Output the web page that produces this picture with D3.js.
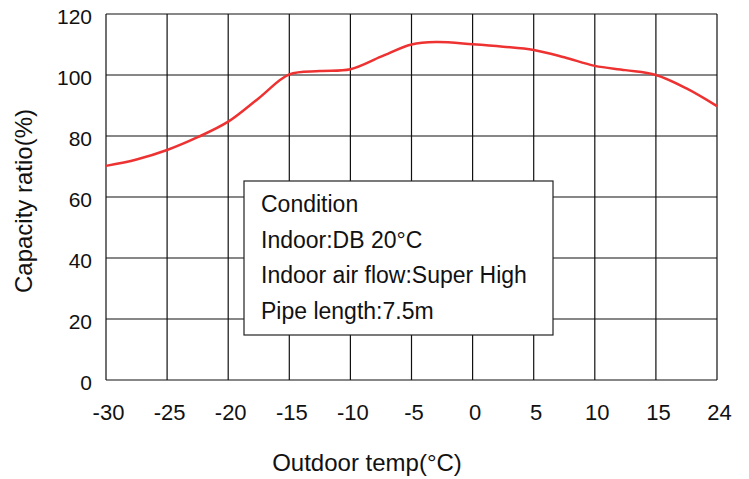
<!DOCTYPE html>
<html>
<head>
<meta charset="utf-8">
<script src="https://cdn.jsdelivr.net/npm/d3@7"></script>
<style>
  body { margin: 0; background: #fff; }
  text { font-family: "Liberation Sans", Arial, sans-serif; fill: #111; }
</style>
</head>
<body>
<svg id="chart" width="749" height="479"></svg>
<script>
// Outdoor temperature (deg C) and capacity ratio (%)
const temps = [-30, -27.5, -25, -22.5, -20, -17.5, -15, -12.5, -10, -7.5, -5, -3, 0, 2.5, 5, 7.5, 10, 12.5, 15, 19.5, 24];
const ratios = [70.2, 72.3, 75.4, 79.6, 84.7, 92.4, 100.2, 101.3, 101.9, 106, 110, 110.8, 110.1, 109.3, 108.2, 105.8, 103, 101.6, 100, 95.6, 89.8];

const xTicks = [-30, -25, -20, -15, -10, -5, 0, 5, 10, 15, 24];
const yTicks = [0, 20, 40, 60, 80, 100, 120];
const noteLines = ['Condition', 'Indoor:DB 20°C', 'Indoor air flow:Super High', 'Pipe length:7.5m'];

const svg = d3.select('#chart');
const margin = { top: 14, right: 32, bottom: 99, left: 106 };
const width = 749 - margin.left - margin.right;
const height = 479 - margin.top - margin.bottom;

const g = svg.append('g').attr('transform', `translate(${margin.left},${margin.top})`);

// last interval (15 -> 24) takes the same width as the others
const step = width / (xTicks.length - 1);
const xScale = d3.scaleLinear()
  .domain([-30, 15, 24])
  .range([0, step * 9, step * 10]);

const yScale = d3.scaleLinear().domain([0, 120]).range([height, 0]);

// grid
g.selectAll('.vgrid').data(xTicks).enter().append('line')
  .attr('x1', d => xScale(d)).attr('x2', d => xScale(d))
  .attr('y1', 0).attr('y2', height)
  .attr('stroke', '#111').attr('stroke-width', 1.2);

g.selectAll('.hgrid').data(yTicks).enter().append('line')
  .attr('x1', 0).attr('x2', width)
  .attr('y1', d => yScale(d)).attr('y2', d => yScale(d))
  .attr('stroke', '#111').attr('stroke-width', 1.2);

// tick labels (plain hyphen for negatives, like the original)
const xAxis = g.append('g')
  .attr('transform', `translate(0,${height})`)
  .call(d3.axisBottom(xScale).tickValues(xTicks).tickSize(0).tickPadding(24).tickFormat(d => String(d)));
xAxis.select('.domain').remove();
xAxis.selectAll('text').style('font-size', '22px').attr('fill', '#111').attr('dx', 2);

const yAxis = g.append('g')
  .call(d3.axisLeft(yScale).tickValues(yTicks).tickSize(0).tickPadding(14));
yAxis.select('.domain').remove();
yAxis.selectAll('text').style('font-size', '21px').attr('fill', '#111').attr('dy', '0.47em');

// curve
const line = d3.line()
  .x((d, i) => xScale(temps[i]))
  .y(d => yScale(d))
  .curve(d3.curveCatmullRom);

g.append('path')
  .datum(ratios)
  .attr('d', line)
  .attr('fill', 'none')
  .attr('stroke', '#ee3232')
  .attr('stroke-width', 2.5);

// condition box
const box = g.append('g').attr('transform', `translate(${244 - margin.left},${181 - margin.top})`);
box.append('rect')
  .attr('width', 309).attr('height', 154)
  .attr('fill', '#fff').attr('stroke', '#222').attr('stroke-width', 1.2);
box.selectAll('text').data(noteLines).enter().append('text')
  .attr('x', 17)
  .attr('y', (d, i) => 31 + i * 35.5)
  .style('font-size', '23px')
  .text(d => d);

// axis titles
svg.append('text')
  .attr('x', 367)
  .attr('y', 471)
  .attr('text-anchor', 'middle')
  .style('font-size', '24px')
  .text('Outdoor temp(°C)');

svg.append('text')
  .attr('transform', `translate(32,201) rotate(-90)`)
  .attr('text-anchor', 'middle')
  .style('font-size', '24px')
  .text('Capacity ratio(%)');
</script>
</body>
</html>
